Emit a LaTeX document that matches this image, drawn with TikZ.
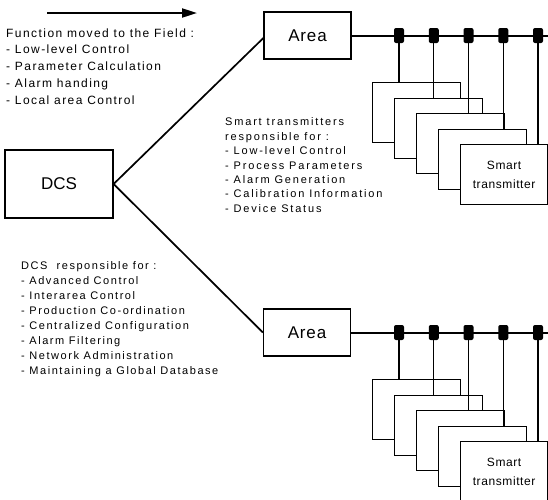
\documentclass[tikz,border=0pt]{standalone}
\usepackage{fontspec}
\setmainfont{Liberation Sans}
\newfontfamily\toplistfont[LetterSpace=12]{Liberation Sans}
\newfontfamily\midlistfont[LetterSpace=16.5]{Liberation Sans}
\newfontfamily\dcslistfont[LetterSpace=14]{Liberation Sans}
\newfontfamily\boxfont[LetterSpace=5]{Liberation Sans}
\usetikzlibrary{arrows.meta}
\begin{document}
\begin{tikzpicture}[x=1pt,y=-1pt,
  frame/.style={draw,line width=1.2pt,fill=white,inner sep=0pt},
  areabox/.style={frame,minimum width=87pt,minimum height=47pt,font=\boxfont\fontsize{17}{20}\selectfont},
  dcsbox/.style={frame,minimum width=108pt,minimum height=68pt,font=\fontsize{17}{20}\selectfont},
  tbox/.style={frame,anchor=north west,minimum width=88pt,minimum height=60pt},
  tboxlast/.style={tbox,minimum width=87pt,align=center,font=\boxfont\fontsize{12}{19}\selectfont},
  blob/.style={fill=black,rounded corners=2pt,minimum width=10pt,minimum height=15pt,inner sep=0pt},
  link/.style={line width=1.7pt},
  bus/.style={line width=2pt},
  drop/.style={line width=1.3pt},
  listtext/.style={anchor=north west,inner sep=0pt,align=left},
]
\useasboundingbox (0,0) rectangle (548,499);

% direction arrow
\coordinate (arrS) at (47,13);
\coordinate (arrE) at (197,13);
\draw[line width=2pt,-{Triangle[length=15pt,width=9pt]}] (arrS) -- (arrE);

% text blocks
\node[listtext,font=\toplistfont\fontsize{12}{16.75}\selectfont] (fieldtxt) at (6,28.2)
  {Function moved to the Field :\\- Low-level Control\\- Parameter Calculation\\- Alarm handing\\- Local area Control};
\node[listtext,font=\midlistfont\fontsize{11}{14.4}\selectfont] (smarttxt) at (225,117.8)
  {Smart transmitters\\responsible for :\\- Low-level Control\\- Process Parameters\\- Alarm Generation\\- Calibration Information\\- Device Status};
\node[listtext,font=\dcslistfont\fontsize{11}{15.1}\selectfont] (dcstxt) at (21,261)
  {DCS~ responsible for :\\- Advanced Control\\- Interarea Control\\- Production Co-ordination\\- Centralized Configuration\\- Alarm Filtering\\- Network Administration\\- Maintaining a Global Database};

% main blocks
\node[dcsbox] (dcs) at (59,184) {DCS};
\node[areabox] (areaT) at (307.5,35.5) {Area};
\node[areabox] (areaB) at (307,332.5) {Area};
\draw[link] (dcs.east) -- ([yshift=-2.5pt]areaT.west);
\draw[link] (dcs.east) -- (areaB.west);

% upper field bus with its transmitters
\foreach \k in {0,...,3} {
  \node[tbox] (tT\k) at ({372+22*\k},{82+15.5*\k}) {};
}
\node[tboxlast] (tT4) at (460,144) {Smart\\transmitter};
\coordinate (busTend) at (548,35.5);
\draw[bus] (areaT.east) -- (busTend);
\foreach \k in {0,...,4} {
  \node[blob] (bT\k) at ({399+34.75*\k},35.5) {};
  \draw[drop] (bT\k.south) -- (bT\k |- tT\k.north);
}

% lower field bus with its transmitters
\foreach \k in {0,...,3} {
  \node[tbox] (tB\k) at ({372+22*\k},{379+15.5*\k}) {};
}
\node[tboxlast] (tB4) at (460,441) {Smart\\transmitter};
\coordinate (busBend) at (548,332.5);
\draw[bus] (areaB.east) -- (busBend);
\foreach \k in {0,...,4} {
  \node[blob] (bB\k) at ({399+34.75*\k},332.5) {};
  \draw[drop] (bB\k.south) -- (bB\k |- tB\k.north);
}
\end{tikzpicture}
\end{document}
